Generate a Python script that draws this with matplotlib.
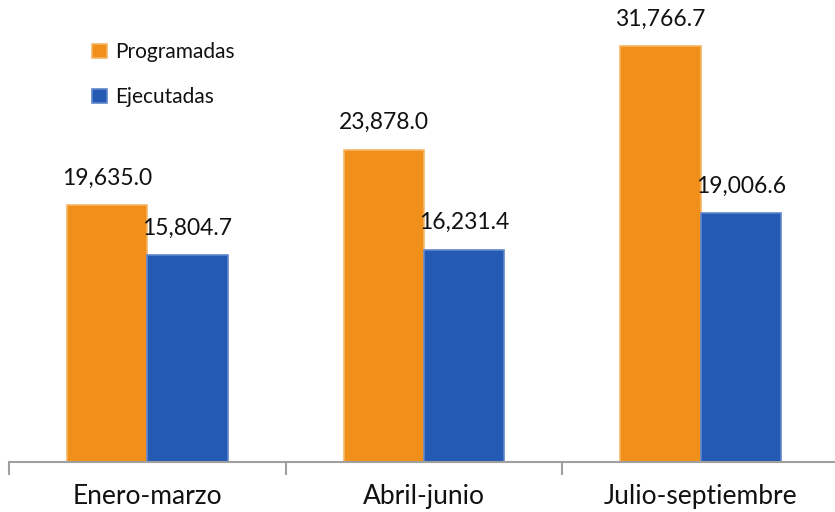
import numpy as np
import matplotlib
matplotlib.use("Agg")
from matplotlib import pyplot as plt

categorias = ["Enero-marzo", "Abril-junio", "Julio-septiembre"]
programadas = [19635.0, 23878.0, 31766.7]
ejecutadas = [15804.7, 16231.4, 19006.6]
series_nombres = ["Programadas", "Ejecutadas"]

plt.rcParams['font.family'] = ['Lato', 'DejaVu Sans']

naranja = "#F0901A"
azul = "#2459B4"

fig = plt.figure(figsize=(8.35, 5.12), dpi=100)
ax = fig.add_axes([9 / 835, 50 / 512, 830 / 835, 458 / 512])

x = np.arange(len(categorias))
w = 0.29
b1 = ax.bar(x - w / 2, programadas, w, color=naranja, edgecolor="#F6B565", linewidth=1.2,
            label=series_nombres[0])
b2 = ax.bar(x + w / 2, ejecutadas, w, color=azul, edgecolor="#5F86CC", linewidth=1.2,
            label=series_nombres[1])

# etiquetas de valor encima de cada barra
for barras, vals in [(b1, programadas), (b2, ejecutadas)]:
    for r, v in zip(barras, vals):
        ax.annotate(f"{v:,.1f}", (r.get_x() + r.get_width() / 2, r.get_height()),
                    xytext=(0, 19.5), textcoords="offset points",
                    ha="center", va="center", fontsize=16.5, color="#111111")

ax.set_xlim(-0.5, 2.5)
ax.set_ylim(0, 35000)
for s in ["top", "right", "left"]:
    ax.spines[s].set_visible(False)
ax.spines["bottom"].set_color("#A0A0A0")
ax.spines["bottom"].set_linewidth(1.5)
ax.set_yticks([])
ax.set_xticks(x)
ax.set_xticklabels(categorias, fontsize=19, color="#111111")
ax.tick_params(axis="x", which="major", length=0, pad=16)
ax.set_xticks([-0.5, 0.5, 1.5, 2.5], minor=True)
ax.tick_params(axis="x", which="minor", length=9, width=1.5, color="#A0A0A0", direction="out")

leg = ax.legend(loc="upper left", bbox_to_anchor=(0.09, 0.935), frameon=False, fontsize=15,
                handlelength=0.7, handleheight=0.7, handletextpad=0.4, labelspacing=1.2,
                borderaxespad=0)
for t in leg.get_texts():
    t.set_color("#111111")

fig.savefig("out.png", dpi=100)
